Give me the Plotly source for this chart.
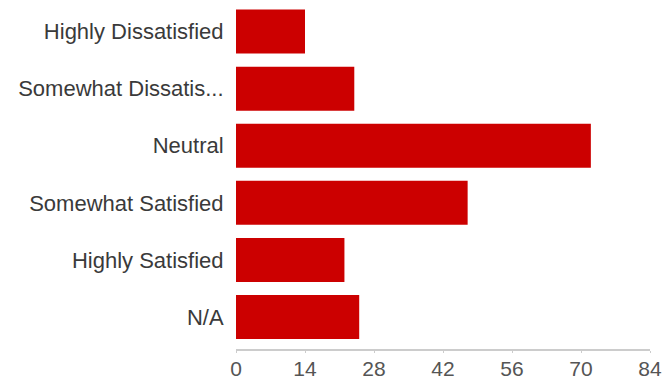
import plotly.graph_objects as go

categories = ["Highly Dissatisfied", "Somewhat Dissatis...", "Neutral",
              "Somewhat Satisfied", "Highly Satisfied", "N/A"]
counts = [14, 24, 72, 47, 22, 25]
x_ticks = [0, 14, 28, 42, 56, 70, 84]

fig = go.Figure(go.Bar(
    x=counts, y=categories, orientation="h",
    marker=dict(color="#cc0000", line=dict(width=0)),
))

fig.update_layout(
    width=665, height=383,
    margin=dict(l=236, r=15, t=3, b=34),
    paper_bgcolor="white", plot_bgcolor="white",
    bargap=0.23,
    showlegend=False,
    font=dict(family="Liberation Sans, Arial, sans-serif", size=21, color="#444"),
)
fig.update_xaxes(
    range=[0, 84], tickvals=x_ticks, ticktext=[str(v) for v in x_ticks],
    showgrid=False, zeroline=False, automargin=False,
    showline=True, linecolor="#cccccc", linewidth=2,
    ticks="outside", ticklen=2, tickcolor="#cccccc",
    ticklabelstandoff=-2,
    tickfont=dict(size=21, color="#555"),
)
fig.update_yaxes(
    categoryorder="array", categoryarray=categories,
    range=[5.56, -0.5], automargin=False,
    showgrid=False, zeroline=False, showline=False,
    ticks="outside", ticklen=7, tickcolor="rgba(0,0,0,0)",
    tickfont=dict(size=22, color="#3a3a3a"),
)

fig.write_html(
    "out.html",
    config={"displayModeBar": False},
    post_script="document.body.style.margin='0';document.body.style.overflow='hidden';",
)
